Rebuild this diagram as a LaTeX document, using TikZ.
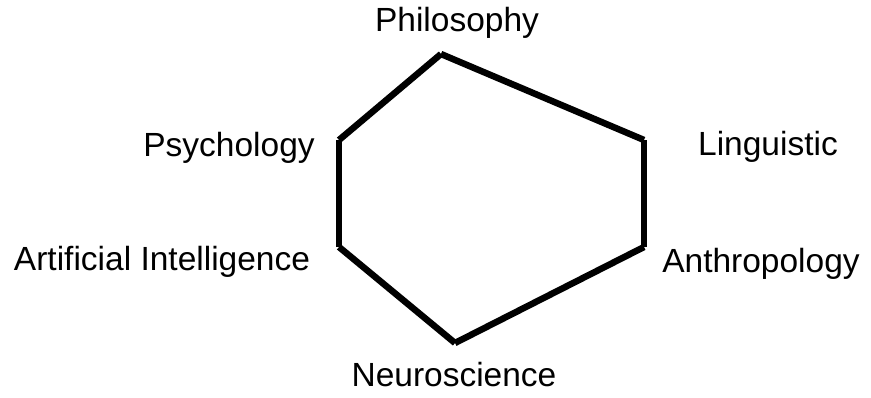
\documentclass[tikz,border=0pt]{standalone}
\usepackage{fontspec}
\setmainfont{Liberation Sans}
\begin{document}
\begin{tikzpicture}[x=1pt,y=-1pt,
  lbl/.style={anchor=base,inner sep=0pt,font=\fontsize{33.5}{38}\selectfont},
  edge/.style={line width=6.5pt,line cap=butt,black}]
\useasboundingbox (0,0) rectangle (871,397);
\coordinate (vP) at (441,54);
\coordinate (vL) at (644,140);
\coordinate (vA) at (644,247);
\coordinate (vN) at (455,343);
\coordinate (vAI) at (339,247);
\coordinate (vPs) at (339,140);
\draw[edge] (vP) -- (vL);
\draw[edge] (vL) -- (vA);
\draw[edge] (vA) -- (vN);
\draw[edge] (vN) -- (vAI);
\draw[edge] (vAI) -- (vPs);
\draw[edge] (vPs) -- (vP);
\node[lbl] (phil) at (457,31) {Philosophy};
\node[lbl] (psy) at (229,156) {Psychology};
\node[lbl] (ling) at (768,155) {Linguistic};
\node[lbl] (ai) at (162,270) {Artificial Intelligence};
\node[lbl] (anth) at (761,272) {Anthropology};
\node[lbl] (neuro) at (454,386) {Neuroscience};
\end{tikzpicture}
\end{document}
